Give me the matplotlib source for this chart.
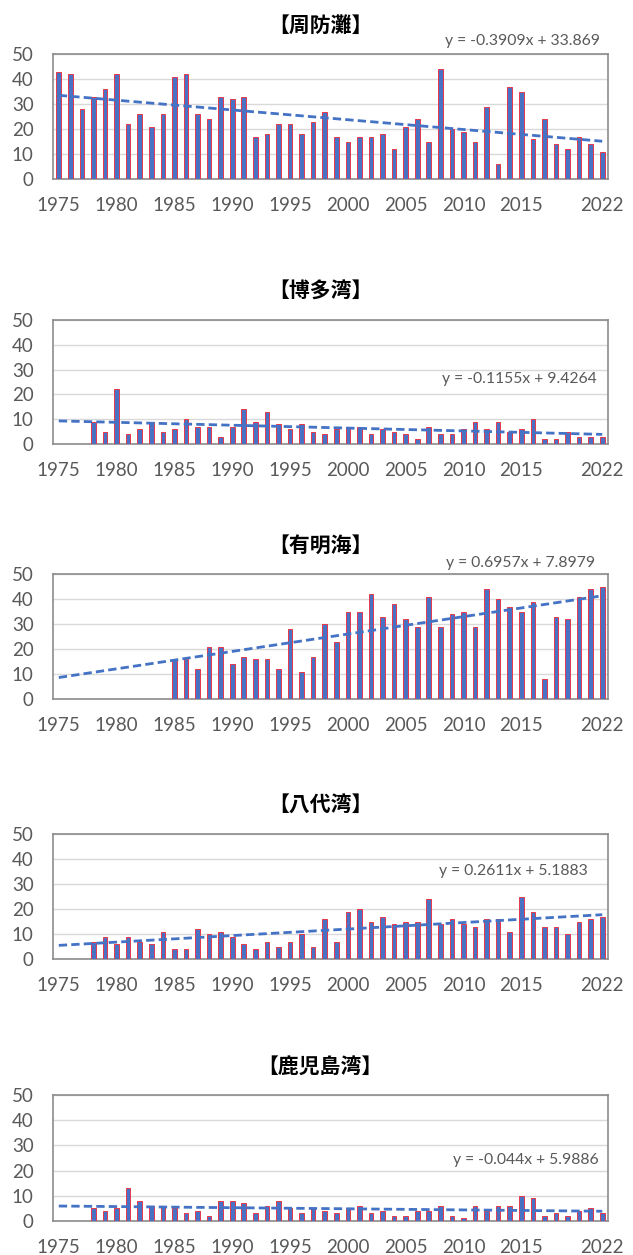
import numpy as np
import matplotlib.pyplot as plt

years = list(range(1975, 2023))

titles = ['【周防灘】', '【博多湾】', '【有明海】', '【八代湾】', '【鹿児島湾】']

suonada = [43, 42, 28, 33, 36, 42, 22, 26, 21, 26, 41, 42,
           26, 24, 33, 32, 33, 17, 18, 22, 22, 18, 23, 27,
           17, 15, 17, 17, 18, 12, 21, 24, 15, 44, 20, 19,
           15, 29, 6, 37, 35, 16, 24, 14, 12, 17, 14, 11]
hakata = [None, None, None, 9, 5, 22, 4, 6, 9, 5, 6, 10,
          7, 7, 3, 7, 14, 9, 13, 8, 6, 8, 5, 4,
          6, 7, 7, 4, 6, 5, 4, 2, 7, 4, 4, 6,
          9, 6, 9, 5, 6, 10, 2, 2, 5, 3, 3, 3]
ariake = [None] * 10 + [16, 16,
          12, 21, 21, 14, 17, 16, 16, 12, 28, 11, 17, 30,
          23, 35, 35, 42, 33, 38, 32, 29, 41, 29, 34, 35,
          29, 44, 40, 37, 35, 39, 8, 33, 32, 41, 44, 45]
yatsushiro = [None, None, None, 7, 9, 6, 9, 7, 6, 11, 4, 4,
              12, 10, 11, 9, 6, 4, 7, 5, 7, 10, 5, 16,
              7, 19, 20, 15, 17, 14, 15, 15, 24, 14, 16, 14,
              13, 16, 16, 11, 25, 19, 13, 13, 10, 15, 16, 17]
kagoshima = [None, None, None, 5, 4, 5, 13, 8, 6, 6, 5, 3,
             4, 2, 8, 8, 7, 3, 6, 8, 5, 3, 5, 4,
             3, 5, 6, 3, 4, 2, 2, 4, 4, 6, 2, 1,
             6, 4, 6, 6, 10, 9, 2, 3, 2, 4, 5, 3]
series = [suonada, hakata, ariake, yatsushiro, kagoshima]

slopes = [-0.3909, -0.1155, 0.6957, 0.2611, -0.044]
intercepts = [33.869, 9.4264, 7.8979, 5.1883, 5.9886]
equations = ['y = -0.3909x + 33.869', 'y = -0.1155x + 9.4264',
             'y = 0.6957x + 7.8979', 'y = 0.2611x + 5.1883',
             'y = -0.044x + 5.9886']

tick_years = [1975, 1980, 1985, 1990, 1995, 2000, 2005, 2010, 2015, 2022]


def main():
    W, H = 633, 1255
    fig = plt.figure(figsize=(W / 100, H / 100), dpi=100)

    # panel boxes in pixels: (top, bottom)
    boxes = [(54, 179), (320, 444), (574, 699), (834, 959), (1095, 1221)]
    left, right = 53, 608
    # equation label anchor (right x, center y) in pixels
    eq_pos = [(600, 41), (597, 379), (595, 563), (588, 871), (599, 1160)]

    gray = '#595959'
    num_font = 'Lato'
    x_all = np.arange(len(years))
    tick_idx = [years.index(y) for y in tick_years]

    for k in range(5):
        top, bot = boxes[k]
        ax = fig.add_axes([left / W, 1 - bot / H, (right - left) / W, (bot - top) / H])
        vals = series[k]
        xs = [i for i, v in enumerate(vals) if v is not None]
        hs = [v for v in vals if v is not None]
        ax.bar(xs, hs, width=0.4, color='#4A72C4', edgecolor='#E8374A',
               linewidth=0.7, zorder=3)

        tx = x_all + 1
        ax.plot(x_all, slopes[k] * tx + intercepts[k], color='#4472C4',
                linestyle=(0, (3, 1.5)), linewidth=2, zorder=4)

        ax.set_xlim(-0.5, len(years) - 0.5)
        ax.set_ylim(0, 50)
        ax.set_yticks([0, 10, 20, 30, 40, 50])
        ax.set_xticks(tick_idx)
        ax.set_xticklabels([str(y) for y in tick_years])
        ax.grid(axis='y', color='#D9D9D9', linewidth=1, zorder=0)
        for s in ax.spines.values():
            s.set_color('#8C8C8C')
            s.set_linewidth(1.2)
        ax.tick_params(length=0, labelsize=13.5, labelcolor=gray)
        ax.tick_params(axis='x', pad=13)
        ax.tick_params(axis='y', pad=14)
        for lab in ax.get_xticklabels() + ax.get_yticklabels():
            lab.set_fontfamily(num_font)

        fig.text(320 / W, 1 - (top - 29) / H, titles[k], ha='center', va='center',
                 fontsize=15, fontweight='bold', family=['Noto Sans CJK JP', 'DejaVu Sans'])
        ex, ey = eq_pos[k]
        fig.text(ex / W, 1 - ey / H, equations[k], ha='right', va='center',
                 fontsize=11.3, color=gray, family=num_font)

    fig.savefig('out.png', dpi=100)


if __name__ == '__main__':
    main()
